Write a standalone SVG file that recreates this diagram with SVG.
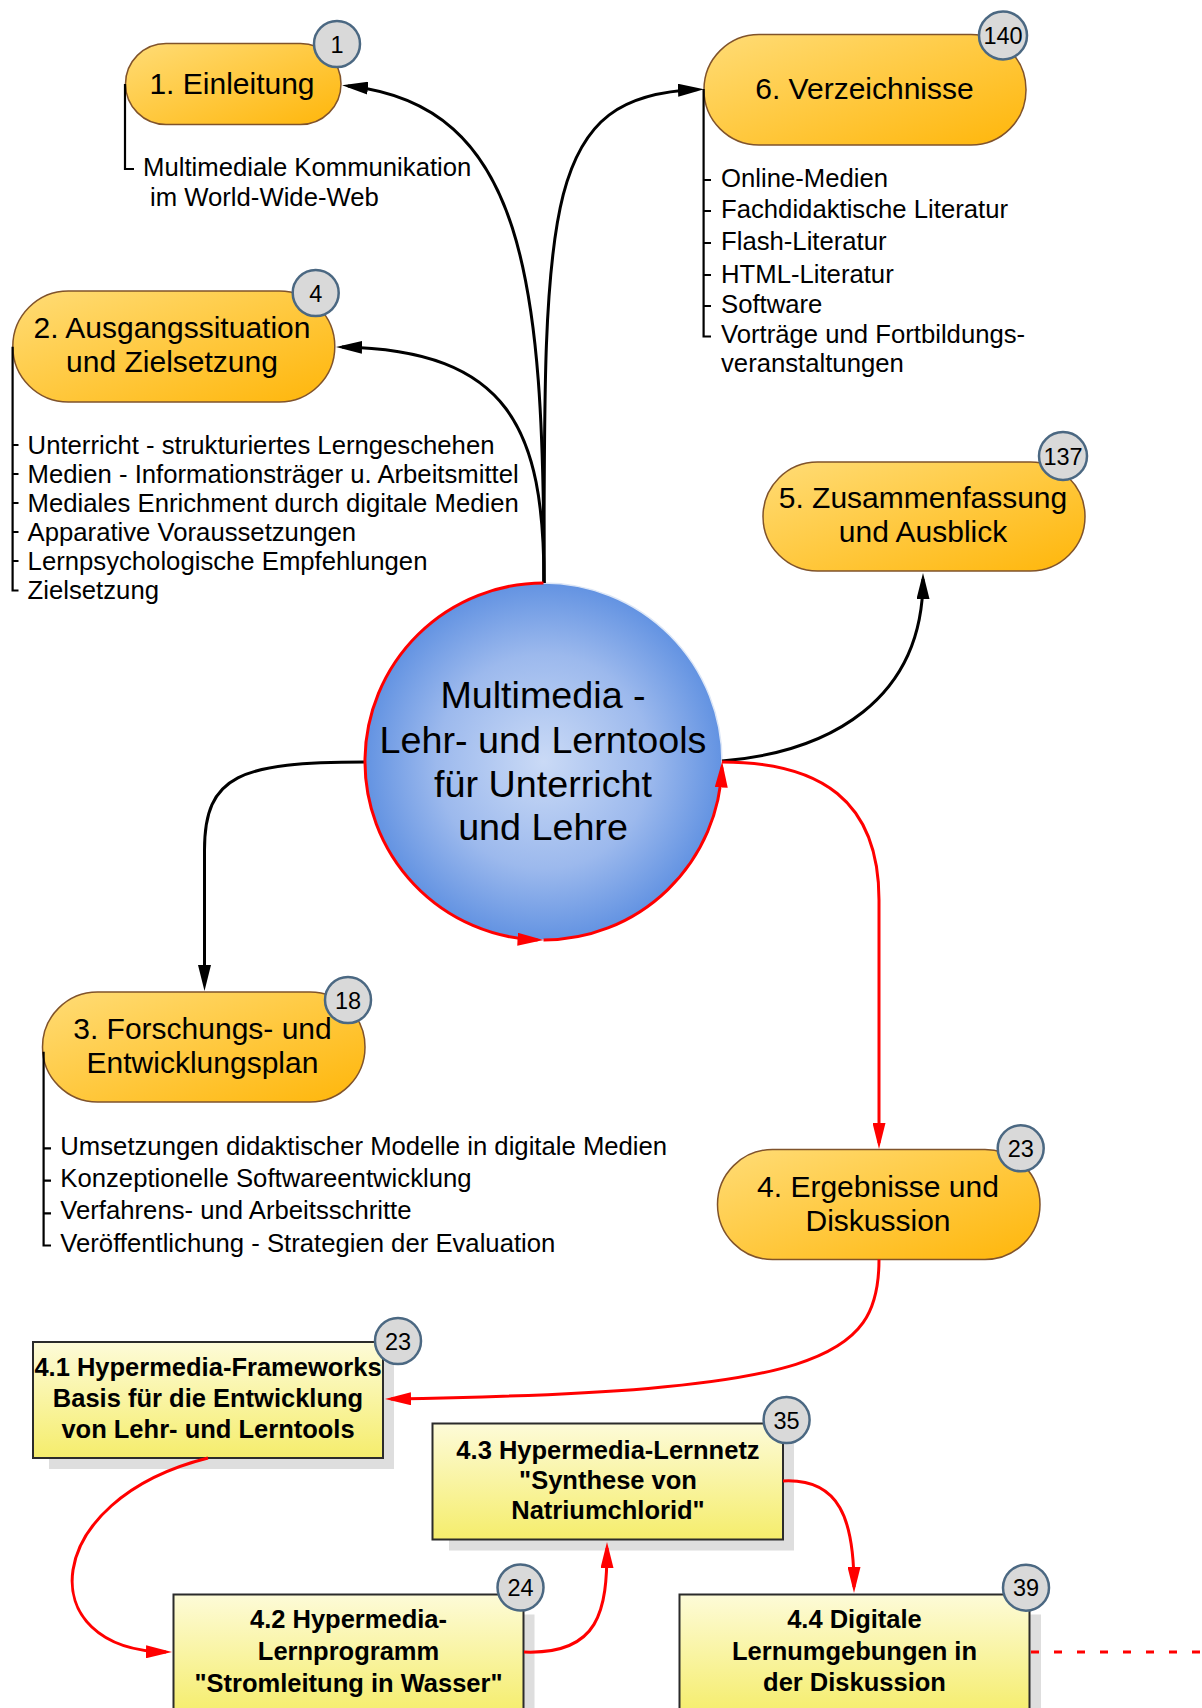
<svg xmlns="http://www.w3.org/2000/svg" width="1202" height="1708" viewBox="0 0 1202 1708">
  <defs>
    <linearGradient id="capFill" x1="0" y1="0" x2="1" y2="1">
      <stop offset="0" stop-color="#ffdc76"/>
      <stop offset="1" stop-color="#ffb60a"/>
    </linearGradient>
    <linearGradient id="boxFill" x1="0" y1="0" x2="0" y2="1">
      <stop offset="0" stop-color="#fdfbd8"/>
      <stop offset="1" stop-color="#f5ed6c"/>
    </linearGradient>
    <radialGradient id="hubFill" cx="0.5" cy="0.5" r="0.5">
      <stop offset="0" stop-color="#cadaf6"/>
      <stop offset="0.6" stop-color="#9cb9ed"/>
      <stop offset="1" stop-color="#6393e2"/>
    </radialGradient>
    <marker id="arrowBlack" markerUnits="userSpaceOnUse" markerWidth="26" markerHeight="13" refX="20" refY="6.5" orient="auto">
      <path d="M0,0 L26,6.5 L0,13 Z" fill="#000"/>
    </marker>
    <marker id="arrowRed" markerUnits="userSpaceOnUse" markerWidth="26" markerHeight="13" refX="20" refY="6.5" orient="auto">
      <path d="M0,0 L26,6.5 L0,13 Z" fill="#ff0000"/>
    </marker>
  </defs>
  <style>
    text { font-family: "Liberation Sans", Arial, sans-serif; fill: #000; }
    .cap { fill: url(#capFill); stroke: #80532b; stroke-width: 1.5; }
    .capText { font-size: 30px; text-anchor: middle; }
    .list { font-size: 25.7px; }
    .bracket { fill: none; stroke: #000; stroke-width: 2.2; }
    .box { fill: url(#boxFill); stroke: #2b2b2b; stroke-width: 2; }
    .shadow { fill: #dedede; }
    .boxText { font-size: 25.5px; font-weight: bold; text-anchor: middle; }
    .badge circle { fill: #d9d9d9; stroke: #4b6882; stroke-width: 2.5; }
    .badge text { font-size: 23.5px; text-anchor: middle; }
    .hubText { font-size: 37.7px; text-anchor: middle; }
    .black { fill: none; stroke: #000; stroke-width: 3; marker-end: url(#arrowBlack); }
    .red { fill: none; stroke: #ff0000; stroke-width: 3; marker-end: url(#arrowRed); }
    .dotted { fill: none; stroke: #ff0000; stroke-width: 3; stroke-dasharray: 8 15; }
  </style>

  <rect width="1202" height="1708" fill="#ffffff"/>

  <!-- central topic -->
  <g id="hub">
    <circle cx="543.5" cy="761.5" r="178.5" fill="url(#hubFill)" stroke="#dde7f7" stroke-width="1.5"/>
    <text class="hubText" x="543" y="708.3">Multimedia -</text>
    <text class="hubText" x="543" y="752.7">Lehr- und Lerntools</text>
    <text class="hubText" x="543" y="796.7">für Unterricht</text>
    <text class="hubText" x="543" y="840">und Lehre</text>
  </g>

  <!-- 1. Einleitung -->
  <g id="n1">
    <rect class="cap" x="125.5" y="43.5" width="215.5" height="81" rx="40.5"/>
    <text class="capText" x="232" y="94.3">1. Einleitung</text>
    <path class="bracket" d="M125,84 V169 H134"/>
    <text class="list" x="143" y="176.3">Multimediale Kommunikation</text>
    <text class="list" x="150" y="205.5">im World-Wide-Web</text>
    <g class="badge"><circle cx="337" cy="44" r="23"/><text x="337" y="52.5">1</text></g>
  </g>

  <!-- 2. Ausgangssituation und Zielsetzung -->
  <g id="n2">
    <rect class="cap" x="12.8" y="291" width="322" height="111" rx="55.5"/>
    <text class="capText" x="172" y="338.3">2. Ausgangssituation</text>
    <text class="capText" x="172" y="371.7">und Zielsetzung</text>
    <path class="bracket" d="M12.6,346.7 V590.5 H18.5 M12.6,445 H18.5 M12.6,474 H18.5 M12.6,503 H18.5 M12.6,532 H18.5 M12.6,561 H18.5"/>
    <text class="list" x="27.6" y="453.5">Unterricht - strukturiertes Lerngeschehen</text>
    <text class="list" x="27.6" y="482.6">Medien - Informationsträger u. Arbeitsmittel</text>
    <text class="list" x="27.6" y="511.7">Mediales Enrichment durch digitale Medien</text>
    <text class="list" x="27.6" y="540.8">Apparative Voraussetzungen</text>
    <text class="list" x="27.6" y="569.9">Lernpsychologische Empfehlungen</text>
    <text class="list" x="27.6" y="599">Zielsetzung</text>
    <g class="badge"><circle cx="315.7" cy="293" r="23"/><text x="315.7" y="301.5">4</text></g>
  </g>

  <!-- 3. Forschungs- und Entwicklungsplan -->
  <g id="n3">
    <rect class="cap" x="42.5" y="992" width="322.5" height="110" rx="55"/>
    <text class="capText" x="202.5" y="1039.3">3. Forschungs- und</text>
    <text class="capText" x="202.5" y="1073.3">Entwicklungsplan</text>
    <path class="bracket" d="M43.6,1051.7 V1245.5 H51 M43.6,1148.3 H51 M43.6,1180.7 H51 M43.6,1213.3 H51"/>
    <text class="list" x="60.3" y="1154.5">Umsetzungen didaktischer Modelle in digitale Medien</text>
    <text class="list" x="60.3" y="1187">Konzeptionelle Softwareentwicklung</text>
    <text class="list" x="60.3" y="1219">Verfahrens- und Arbeitsschritte</text>
    <text class="list" x="60.3" y="1252">Veröffentlichung - Strategien der Evaluation</text>
    <g class="badge"><circle cx="348" cy="1000" r="23"/><text x="348" y="1008.5">18</text></g>
  </g>

  <!-- 4. Ergebnisse und Diskussion -->
  <g id="n4">
    <rect class="cap" x="717.5" y="1149.5" width="322.5" height="110" rx="55"/>
    <text class="capText" x="878" y="1197.3">4. Ergebnisse und</text>
    <text class="capText" x="878" y="1231">Diskussion</text>
    <g class="badge"><circle cx="1020.7" cy="1148.3" r="23"/><text x="1020.7" y="1156.8">23</text></g>
  </g>

  <!-- 5. Zusammenfassung und Ausblick -->
  <g id="n5">
    <rect class="cap" x="763" y="462" width="322" height="109" rx="54.5"/>
    <text class="capText" x="923" y="508.3">5. Zusammenfassung</text>
    <text class="capText" x="923" y="541.7">und Ausblick</text>
    <g class="badge"><circle cx="1063" cy="456" r="24"/><text x="1063" y="464.5">137</text></g>
  </g>

  <!-- 6. Verzeichnisse -->
  <g id="n6">
    <rect class="cap" x="704" y="34.5" width="322" height="110.5" rx="55"/>
    <text class="capText" x="864.5" y="99.3">6. Verzeichnisse</text>
    <path class="bracket" d="M703.6,89 V336.5 H711 M703.6,180 H711 M703.6,211 H711 M703.6,243 H711 M703.6,275 H711 M703.6,306 H711"/>
    <text class="list" x="721" y="187.3">Online-Medien</text>
    <text class="list" x="721" y="218.3">Fachdidaktische Literatur</text>
    <text class="list" x="721" y="250">Flash-Literatur</text>
    <text class="list" x="721" y="282.7">HTML-Literatur</text>
    <text class="list" x="721" y="313.3">Software</text>
    <text class="list" x="721" y="343.3">Vorträge und Fortbildungs-</text>
    <text class="list" x="721" y="371.7">veranstaltungen</text>
    <g class="badge"><circle cx="1003" cy="35.5" r="24"/><text x="1003" y="44">140</text></g>
  </g>

  <!-- 4.1 Hypermedia-Frameworks -->
  <g id="n41">
    <rect class="shadow" x="49" y="1362" width="345" height="107"/>
    <rect class="box" x="33" y="1342" width="350" height="116"/>
    <text class="boxText" x="208" y="1376">4.1 Hypermedia-Frameworks</text>
    <text class="boxText" x="208" y="1407">Basis für die Entwicklung</text>
    <text class="boxText" x="208" y="1437.5">von Lehr- und Lerntools</text>
    <g class="badge"><circle cx="398" cy="1341" r="23"/><text x="398" y="1349.5">23</text></g>
  </g>

  <!-- 4.2 Hypermedia-Lernprogramm -->
  <g id="n42">
    <rect class="shadow" x="189.5" y="1614.5" width="345" height="110"/>
    <rect class="box" x="173.5" y="1594.5" width="350" height="120"/>
    <text class="boxText" x="348.5" y="1628.3">4.2 Hypermedia-</text>
    <text class="boxText" x="348.5" y="1660">Lernprogramm</text>
    <text class="boxText" x="348.5" y="1691.7">"Stromleitung in Wasser"</text>
    <g class="badge"><circle cx="520.5" cy="1587.5" r="23"/><text x="520.5" y="1596">24</text></g>
  </g>

  <!-- 4.3 Hypermedia-Lernnetz -->
  <g id="n43">
    <rect class="shadow" x="449" y="1443" width="345" height="107.5"/>
    <rect class="box" x="432.5" y="1423.5" width="350.5" height="116"/>
    <text class="boxText" x="608" y="1459.3">4.3 Hypermedia-Lernnetz</text>
    <text class="boxText" x="608" y="1489.3">"Synthese von</text>
    <text class="boxText" x="608" y="1519.3">Natriumchlorid"</text>
    <g class="badge"><circle cx="786.6" cy="1420" r="23"/><text x="786.6" y="1428.5">35</text></g>
  </g>

  <!-- 4.4 Digitale Lernumgebungen in der Diskussion -->
  <g id="n44">
    <rect class="shadow" x="695.5" y="1614.5" width="345.5" height="110"/>
    <rect class="box" x="679.5" y="1594.5" width="350" height="120"/>
    <text class="boxText" x="854.5" y="1628.3">4.4 Digitale</text>
    <text class="boxText" x="854.5" y="1660">Lernumgebungen in</text>
    <text class="boxText" x="854.5" y="1690.7">der Diskussion</text>
    <g class="badge"><circle cx="1026" cy="1587.7" r="23"/><text x="1026" y="1596.2">39</text></g>
  </g>

  <!-- connectors -->
  <g id="connectors">
    <path class="black" d="M544,583 C544,280 525,105 348,86"/>
    <path class="black" d="M544,583 C544,430 510,350 342,347"/>
    <path class="black" d="M544,583 C544,200 544,95 698,89.5"/>
    <path class="black" d="M365,762 C240,762 204.5,775 204.5,850 L204.5,985"/>
    <path class="black" d="M722,761 C830,752 923,700 923,579"/>
    <path class="red" d="M543.5,583 A178.5,178.5 0 0 0 537.5,939.9"/>
    <path class="red" d="M543.5,940 A178.5,178.5 0 0 0 721.9,767.5"/>
    <path class="red" d="M722,762 C820,762 879,800 879,900 L879,1143"/>
    <path class="red" d="M879,1259.5 C879,1360 820,1392 391,1399"/>
    <path class="red" d="M208,1458 C40,1500 30,1650 166,1652"/>
    <path class="red" d="M524,1652 C600,1655 607,1610 607,1548"/>
    <path class="red" d="M783,1481 C840,1478 854,1520 854,1587"/>
    <path class="dotted" d="M1031,1652 H1202"/>
  </g>
</svg>
